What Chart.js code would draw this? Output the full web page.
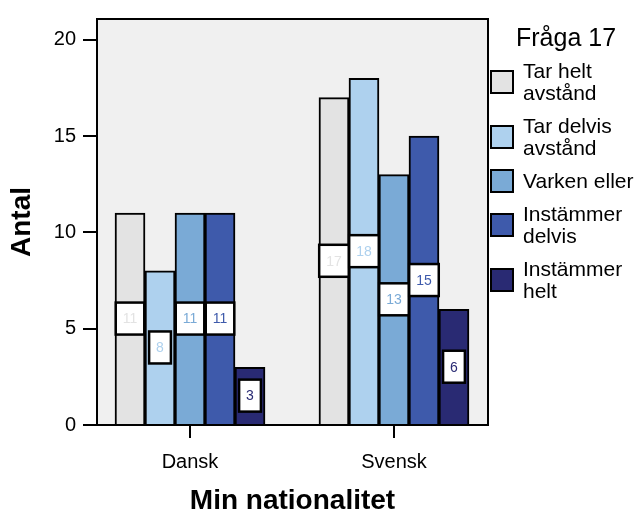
<!DOCTYPE html>
<html>
<head>
<meta charset="utf-8">
<script src="https://cdn.jsdelivr.net/npm/chart.js@4"></script>
<style>
  body { margin: 0; background: #fff; }
  #wrap { width: 642px; height: 515px; position: relative; }
</style>
</head>
<body>
<div id="wrap"><canvas id="chart"></canvas></div>
<script>
const categories = ['Dansk', 'Svensk'];
const seriesNames = ['Tar helt avstånd', 'Tar delvis avstånd', 'Varken eller', 'Instämmer delvis', 'Instämmer helt'];
const legendLines = [['Tar helt', 'avstånd'], ['Tar delvis', 'avstånd'], ['Varken eller'], ['Instämmer', 'delvis'], ['Instämmer', 'helt']];
const danskValues = [11, 8, 11, 11, 3];
const svenskValues = [17, 18, 13, 15, 6];
const yTicks = [0, 5, 10, 15, 20];
const seriesColors = ['#e3e3e3', '#aed1ee', '#7aaad6', '#3e5aab', '#292a73'];

const FONT = '"Liberation Sans", Arial, sans-serif';

// plot background + top/right frame
const framePlugin = {
  id: 'frame',
  beforeDraw(chart) {
    const { ctx, chartArea: a } = chart;
    ctx.save();
    ctx.fillStyle = '#f0f0f0';
    ctx.fillRect(a.left, a.top, a.right - a.left, a.bottom - a.top);
    ctx.restore();
  },
  afterDraw(chart) {
    const { ctx, chartArea: a } = chart;
    ctx.save();
    ctx.strokeStyle = '#000';
    ctx.lineWidth = 2;
    ctx.beginPath();
    ctx.moveTo(a.left, a.top);
    ctx.lineTo(a.right, a.top);
    ctx.lineTo(a.right, a.bottom);
    ctx.stroke();
    ctx.restore();
  }
};

// white value boxes in the middle of each bar
const valueBoxes = {
  id: 'valueBoxes',
  afterDatasetsDraw(chart) {
    const ctx = chart.ctx;
    ctx.save();
    ctx.font = '14px ' + FONT;
    ctx.textAlign = 'center';
    ctx.textBaseline = 'middle';
    chart.data.datasets.forEach((ds, i) => {
      const meta = chart.getDatasetMeta(i);
      meta.data.forEach((bar, j) => {
        const txt = String(ds.data[j].y);
        const cy = (bar.y + bar.base) / 2;
        const w = Math.min(ctx.measureText(txt).width + 14, bar.width);
        const h = 32;
        ctx.fillStyle = '#fff';
        ctx.fillRect(bar.x - w / 2, cy - h / 2, w, h);
        ctx.strokeStyle = '#000';
        ctx.lineWidth = 2.5;
        ctx.strokeRect(bar.x - w / 2, cy - h / 2, w, h);
        ctx.fillStyle = ds.backgroundColor;
        ctx.fillText(txt, bar.x, cy + 1);
      });
    });
    ctx.restore();
  }
};

// legend on the right with wrapped labels
const sideLegend = {
  id: 'sideLegend',
  afterDraw(chart) {
    const ctx = chart.ctx;
    ctx.save();
    ctx.fillStyle = '#000';
    ctx.font = '25px ' + FONT;
    ctx.textBaseline = 'alphabetic';
    ctx.textAlign = 'left';
    ctx.fillText('Fråga 17', 516, 46);

    ctx.font = '21px ' + FONT;
    ctx.textBaseline = 'middle';
    const lineH = 22, gap = 11;
    let y = 60;
    chart.data.datasets.forEach((ds, i) => {
      const lines = legendLines[i];
      const blockH = lines.length * lineH;
      const cy = y + blockH / 2;
      ctx.fillStyle = ds.backgroundColor;
      ctx.fillRect(491, cy - 11, 22, 22);
      ctx.strokeStyle = '#000';
      ctx.lineWidth = 2;
      ctx.strokeRect(491, cy - 11, 22, 22);
      ctx.fillStyle = '#000';
      lines.forEach((ln, k) => ctx.fillText(ln, 523, y + lineH * k + lineH / 2 + 1));
      y += blockH + gap;
    });
    ctx.restore();
  }
};

const datasets = seriesNames.map((name, i) => ({
  label: name,
  data: [{ x: 0, y: danskValues[i] }, { x: 1, y: svenskValues[i] }],
  backgroundColor: seriesColors[i],
  borderColor: '#000',
  borderWidth: 2,
  barThickness: 30
}));

new Chart(document.getElementById('chart'), {
  type: 'bar',
  data: { datasets },
  plugins: [framePlugin, valueBoxes, sideLegend],
  options: {
    responsive: true,
    maintainAspectRatio: false,
    animation: false,
    layout: { padding: { left: 0, right: 154, top: 14, bottom: 0 } },
    plugins: { legend: { display: false }, tooltip: { enabled: false } },
    scales: {
      x: {
        type: 'linear',
        min: -0.456,
        max: 1.461,
        offset: false,
        afterBuildTicks: s => { s.ticks = categories.map((c, i) => ({ value: i })); },
        afterFit: s => { s.height = 90; },
        border: { display: true, color: '#000', width: 2 },
        grid: { offset: false, drawOnChartArea: false, drawTicks: true, tickLength: 13, color: '#000', lineWidth: 2 },
        ticks: {
          color: '#000', font: { family: FONT, size: 20 }, padding: 12, maxRotation: 0,
          callback: v => categories[v]
        },
        title: { display: true, text: 'Min nationalitet', color: '#000',
          font: { family: FONT, size: 28, weight: 'bold', lineHeight: 1 }, padding: { top: 0, bottom: 0 } }
      },
      y: {
        min: 0,
        max: 21.08,
        afterBuildTicks: s => { s.ticks = yTicks.map(v => ({ value: v })); },
        afterFit: s => { s.width = 97; },
        border: { display: true, color: '#000', width: 2 },
        grid: { drawOnChartArea: false, drawTicks: true, tickLength: 14, color: '#000', lineWidth: 2 },
        ticks: { color: '#000', font: { family: FONT, size: 20 }, padding: 7 },
        title: { display: true, text: 'Antal', color: '#000',
          font: { family: FONT, size: 28, weight: 'bold', lineHeight: 1 }, padding: { top: 8, bottom: 0 } }
      }
    }
  }
});
</script>
</body>
</html>
